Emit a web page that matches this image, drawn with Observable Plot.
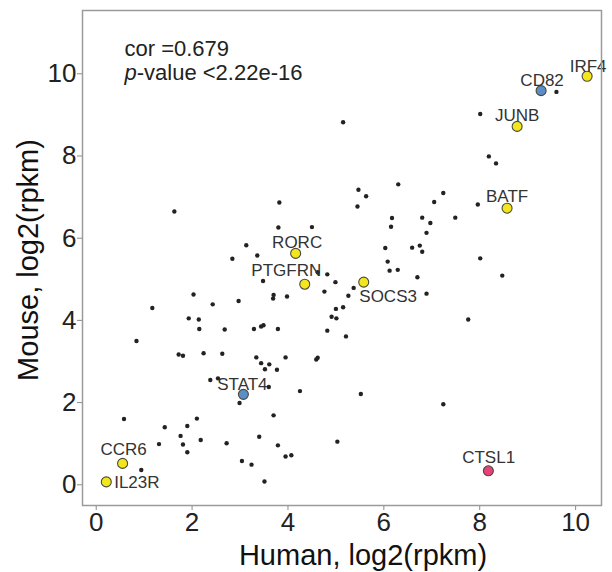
<!DOCTYPE html>
<html>
<head>
<meta charset="utf-8">
<script src="https://cdn.jsdelivr.net/npm/d3@7"></script>
<script src="https://cdn.jsdelivr.net/npm/@observablehq/plot@0.6"></script>
<style>
  html, body { margin: 0; padding: 0; background: #fff; }
  #chart { width: 612px; height: 572px; }
</style>
</head>
<body>
<div id="chart"></div>
<script>
// ---- data ----
const humanX = [1.63,3.82,3.80,4.50,3.13,3.36,2.84,5.15,9.60,8.01,8.19,8.34,6.30,5.47,5.63,5.45,7.24,7.05,7.96,6.17,6.15,6.80,6.97,7.49,6.89,6.03,6.59,6.75,6.80,8.01,6.08,6.12,6.29,6.70,8.47,5.37,5.26,5.15,6.89,7.76,5.21,5.52,7.24,5.03,4.99,4.76,4.82,4.62,3.48,3.70,3.69,3.98,5.00,4.91,5.01,4.82,3.49,3.79,4.59,4.62,4.25,2.03,2.43,2.97,1.17,1.93,2.14,2.15,2.68,3.29,3.44,0.84,1.72,1.81,2.24,2.63,3.34,3.44,3.61,3.52,3.77,3.95,2.38,2.54,3.60,2.99,0.58,2.10,3.70,1.43,1.90,1.76,2.18,3.40,1.31,1.81,2.72,3.79,1.90,3.95,4.07,3.04,3.24,0.94,3.51];
const mouseY = [6.65,6.87,6.26,6.27,5.83,5.58,5.50,8.82,9.56,9.02,7.99,7.82,7.31,7.18,7.02,6.77,7.10,6.88,6.82,6.49,6.28,6.50,6.37,6.50,6.13,5.76,5.77,5.82,5.67,5.51,5.43,5.21,5.23,5.05,5.09,4.79,4.60,4.32,4.65,4.02,3.61,2.21,1.96,1.05,4.93,4.70,5.12,5.17,4.96,4.62,4.53,4.58,4.28,4.09,4.05,3.75,3.88,3.79,3.05,3.09,2.28,4.63,4.39,4.47,4.30,4.05,4.02,3.79,3.78,3.79,3.85,3.50,3.17,3.14,3.20,3.19,3.10,2.96,2.93,2.81,2.80,3.10,2.55,2.59,2.38,1.99,1.60,1.61,1.69,1.40,1.43,1.19,1.09,1.17,0.99,0.98,1.01,0.96,0.79,0.69,0.72,0.58,0.49,0.36,0.08];

const geneNames = ["IRF4","CD82","JUNB","BATF","RORC","PTGFRN","SOCS3","STAT4","CCR6","IL23R","CTSL1"];
const geneX     = [10.24, 9.28, 8.78, 8.57, 4.16, 4.35, 5.58, 3.07, 0.55, 0.21, 8.18];
const geneY     = [9.94, 9.59, 8.72, 6.73, 5.63, 4.88, 4.93, 2.20, 0.52, 0.07, 0.34];
const geneGroup = ["set A","set B","set A","set A","set A","set A","set A","set B","set A","set A","set C"];
const groupNames = ["set A", "set B", "set C"];

const xTicks = [0, 2, 4, 6, 8, 10];
const yTicks = [0, 2, 4, 6, 8, 10];

const xTitle = "Human, log2(rpkm)";
const yTitle = "Mouse, log2(rpkm)";
const corText = "cor =0.679";
const pItalic = "p";
const pRest = "-value <2.22e-16";

// ---- build tables ----
const background = humanX.map((x, i) => ({x, y: mouseY[i]}));
const genes = geneNames.map((name, i) => ({name, x: geneX[i], y: geneY[i], group: geneGroup[i]}));

// label placement (screen offsets, like ggrepel output)
const labelOffset = {
  IRF4: [1, -10], CD82: [1, -10], JUNB: [0, -10.5], BATF: [0, -11.4],
  RORC: [1.5, -10.5], PTGFRN: [-18.5, -14], SOCS3: [24.4, 14.5],
  STAT4: [-1, -10.3], CCR6: [1, -14.2], IL23R: [30.6, 0.7], CTSL1: [0.3, -13.6]
};

const FONT = "'Liberation Sans', Arial, Helvetica, sans-serif";

const labelMarks = genes.map(g => Plot.text([g], {
  x: "x", y: "y", text: "name",
  dx: labelOffset[g.name][0], dy: labelOffset[g.name][1],
  textAnchor: "middle", lineAnchor: "middle",
  fontSize: 17, fill: "#333"
}));

const chart = Plot.plot({
  width: 612,
  height: 572,
  marginLeft: 82,
  marginRight: 11,
  marginTop: 10,
  marginBottom: 67,
  style: {fontFamily: FONT, background: "#fff", overflow: "visible"},
  x: {domain: [-0.286, 10.54]},
  y: {domain: [-0.504, 11.54]},
  color: {domain: groupNames, range: ["#f4e61e", "#5b8dc8", "#e8407c"]},
  marks: [
    Plot.axisX({ticks: xTicks, tickSize: 5, tickPadding: 2, fontSize: 26, stroke: "#8a8a8a", fill: "#222", label: null}),
    Plot.axisY({ticks: yTicks, tickSize: 5, tickPadding: 1, fontSize: 26, stroke: "#8a8a8a", fill: "#222", label: null}),
    Plot.dot(background, {x: "x", y: "y", r: 2.2, fill: "#222", stroke: null}),
    Plot.dot(genes, {x: "x", y: "y", r: 5, fill: "group", stroke: "#4a4a3a", strokeWidth: 1.1}),
    ...labelMarks,
    Plot.frame({stroke: "#9a9a9a", strokeWidth: 1.5}),
    Plot.text([corText], {frameAnchor: "top-left", dx: 42, dy: 29.4, lineAnchor: "top", textAnchor: "start", fontSize: 22, fill: "#222"}),
    Plot.text([pItalic], {frameAnchor: "top-left", dx: 42, dy: 53.4, lineAnchor: "top", textAnchor: "start", fontSize: 22, fontStyle: "italic", fill: "#222"}),
    Plot.text([pRest], {frameAnchor: "top-left", dx: 54.2, dy: 53.4, lineAnchor: "top", textAnchor: "start", fontSize: 22, fill: "#222"}),
    Plot.text([xTitle], {frameAnchor: "bottom", dx: 21, dy: 50, textAnchor: "middle", lineAnchor: "middle", fontSize: 29, fill: "#111"}),
    Plot.text([yTitle], {frameAnchor: "left", dx: -54, dy: 2, rotate: -90, textAnchor: "middle", lineAnchor: "middle", fontSize: 29, fill: "#111"})
  ]
});

document.getElementById("chart").appendChild(chart);
</script>
</body>
</html>
